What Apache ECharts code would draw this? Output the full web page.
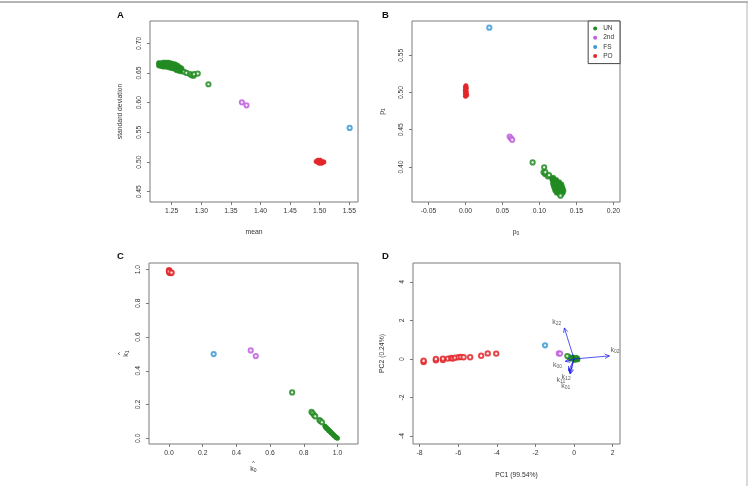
<!DOCTYPE html>
<html><head><meta charset="utf-8">
<script src="https://cdn.jsdelivr.net/npm/echarts@6/dist/echarts.min.js"></script>
<style>html,body{margin:0;padding:0;background:#fff}#c{width:748px;height:486px}</style>
</head><body><div id="c"></div>
<script>
// ---------- Panel A: mean vs standard deviation ----------
const aUNcore = [[1.228,0.662],[1.228,0.665],[1.228,0.667],[1.232,0.661],[1.232,0.664],[1.232,0.667],
 [1.236,0.660],[1.236,0.663],[1.236,0.666],[1.236,0.668],[1.240,0.660],[1.240,0.663],[1.240,0.666],[1.240,0.668],
 [1.244,0.659],[1.244,0.662],[1.244,0.665],[1.244,0.668],[1.248,0.658],[1.248,0.661],[1.248,0.664],[1.248,0.667],
 [1.252,0.657],[1.252,0.660],[1.252,0.663],[1.252,0.666],[1.256,0.656],[1.256,0.659],[1.256,0.662],[1.256,0.665],
 [1.260,0.655],[1.260,0.658],[1.260,0.661],[1.260,0.663],[1.264,0.654],[1.264,0.657],[1.264,0.660],[1.267,0.655],[1.267,0.658],
 [1.262,0.653],[1.266,0.652],[1.258,0.654]];
const aUN = [[1.271,0.652],[1.275,0.650],[1.281,0.648],[1.284,0.646],[1.287,0.6455],[1.288,0.648],[1.294,0.649],[1.312,0.631]];
const a2nd = [[1.3685,0.6006],[1.3764,0.5955]];
const aFS = [[1.5506,0.5574]];
const aPO = [[1.494,0.501],[1.496,0.500],[1.498,0.502],[1.500,0.500],[1.502,0.501],[1.504,0.499],[1.506,0.500],
 [1.507,0.500],[1.497,0.503],[1.501,0.503],[1.499,0.498],[1.503,0.498]];
const aXTicks = [1.25,1.30,1.35,1.40,1.45,1.50,1.55];
const aYTicks = [0.45,0.50,0.55,0.60,0.65,0.70];

// ---------- Panel B: p0 vs p1 ----------
const bUNcore = [[0.116,0.386],[0.119,0.386],[0.117,0.383],[0.120,0.383],[0.123,0.383],
 [0.118,0.380],[0.121,0.380],[0.124,0.380],[0.127,0.380],[0.118,0.377],[0.121,0.377],[0.124,0.377],[0.127,0.377],[0.130,0.377],
 [0.119,0.374],[0.122,0.374],[0.125,0.374],[0.128,0.374],[0.131,0.374],[0.120,0.371],[0.123,0.371],[0.126,0.371],[0.129,0.371],[0.132,0.371],
 [0.121,0.368],[0.124,0.368],[0.127,0.368],[0.130,0.368],[0.133,0.368],[0.123,0.365],[0.126,0.365],[0.129,0.365],[0.132,0.365],
 [0.127,0.363],[0.130,0.363]];
const bUN = [[0.0908,0.4061],[0.1064,0.3995],[0.1055,0.3928],[0.1077,0.3906],[0.1112,0.3875],[0.108,0.393],[0.113,0.389],[0.1285,0.3615]];
const b2nd = [[0.0597,0.4409],[0.0615,0.4385],[0.0632,0.4365]];
const bFS = [[0.0322,0.5870]];
const bPO = [[0.000,0.495],[0.0005,0.497],[0.000,0.499],[0.001,0.501],[0.000,0.503],[0.0005,0.505],[0.000,0.507],
 [0.0005,0.509],[0.001,0.498],[0.000,0.502],[0.001,0.506],[0.0015,0.4965]];
const bXTicks = [-0.05,0.00,0.05,0.10,0.15,0.20];
const bYTicks = [0.40,0.45,0.50,0.55];

// ---------- Panel C: k0 vs k1 ----------
const cUNcore = [[0.925,0.072],[0.930,0.066],[0.935,0.061],[0.940,0.057],[0.945,0.052],[0.950,0.046],[0.955,0.042],
 [0.960,0.037],[0.965,0.031],[0.970,0.027],[0.975,0.022],[0.980,0.017],[0.985,0.012],[0.990,0.008],[0.995,0.004],[1.000,0.000],
 [0.933,0.060],[0.948,0.045],[0.962,0.032],[0.978,0.017],[0.992,0.004]];
const cUN = [[0.731,0.272],[0.846,0.156],[0.853,0.148],[0.862,0.136],[0.868,0.130],[0.893,0.108],[0.898,0.103],[0.908,0.095]];
const c2nd = [[0.485,0.521],[0.515,0.487]];
const cFS = [[0.265,0.499]];
const cPO = [[0.000,0.996],[0.002,0.990],[0.005,0.985],[0.008,0.982],[0.012,0.980],[0.003,0.981],[0.000,0.988],[0.015,0.982]];
const cXTicks = [0.0,0.2,0.4,0.6,0.8,1.0];
const cYTicks = [0.0,0.2,0.4,0.6,0.8,1.0];

// ---------- Panel D: PCA biplot ----------
const dUNcore = [[-0.25,0.12],[-0.15,0.08],[-0.10,0.02],[0.00,0.05],[0.05,0.00],[0.10,0.03],[0.15,-0.02],[0.18,0.05],
 [0.08,-0.06],[0.00,-0.05],[-0.05,0.10],[0.12,0.08],[0.20,-0.04],[-0.18,0.00]];
const dUN = [[-0.35,0.15]];
const d2nd = [[-0.79,0.29],[-0.72,0.28]];
const dFS = [[-1.50,0.71]];
const dPO = [[-7.79,-0.155],[-7.79,-0.09],[-7.155,-0.07],[-7.155,0.00],[-6.79,-0.05],[-6.79,0.02],[-6.53,0.02],
 [-6.36,0.05],[-6.28,0.02],[-6.16,0.07],[-5.98,0.09],[-5.86,0.10],[-5.72,0.09],[-5.38,0.09],[-4.81,0.17],[-4.47,0.29],[-4.03,0.28]];
const arrowNames = ['22','02','00','12','11','01'];
const arrowPC1 = [-0.50, 1.83, -0.45, -0.22, -0.28, -0.20];
const arrowPC2 = [1.61, 0.16, -0.12, -0.72, -0.62, -0.78];
const labelPC1 = [-0.89, 2.12, -0.86, -0.41, -0.68, -0.43];
const labelPC2 = [1.90, 0.46, -0.32, -0.96, -1.10, -1.39];
const dXTicks = [-8,-6,-4,-2,0,2];
const dYTicks = [-4,-2,0,2,4];

const groups = ['UN','2nd','FS','PO'];
const colors = {UN:'#228B22','2nd':'#c060dc',FS:'#3d9ad8',PO:'#e3262a'};

const FONT = 'Liberation Sans, Arial, sans-serif';
const TXT = '#333';
const BOX = '#7a7a7a';

function axis(gi, min, max, ticks, dec, name, gap, isY){
  return {
    type:'value', gridIndex:gi, min:min, max:max, scale:true,
    position: isY ? 'left' : 'bottom',
    splitLine:{show:false}, axisLine:{show:false, onZero:false},
    axisTick:{show:true, length:3, inside:false, customValues:ticks, lineStyle:{color:BOX,width:1}},
    axisLabel:{show:true, customValues:ticks, margin:isY?7:6, rotate:isY?90:0,
      fontSize:6.8, color:TXT, fontFamily:FONT,
      formatter:(v)=>Number(v).toFixed(dec)},
    name:name, nameLocation:'middle', nameGap:gap,
    nameTextStyle:{fontSize:6.8, color:TXT, fontFamily:FONT, align:'center',
      rich:{b:{fontSize:6.8,color:TXT,fontFamily:FONT},
            h:{fontSize:6,color:TXT,fontFamily:FONT,lineHeight:4,align:'center'},
            k:{fontSize:7,color:TXT,fontFamily:FONT},
            s:{fontSize:5,color:TXT,fontFamily:FONT,verticalAlign:'bottom',padding:[3,0,0,0]}}}
  };
}

function pts(gi, name, data, filled, size){
  return {type:'scatter', name:name, xAxisIndex:gi, yAxisIndex:gi, data:data,
    symbol: filled ? 'circle' : 'emptyCircle', symbolSize:size||4.2,
    itemStyle: filled ? {color:colors[name], borderColor:colors[name], borderWidth:0.6, opacity:1}
                      : {color:colors[name], borderColor:colors[name], borderWidth:0.75, opacity:0.85},
    emphasis:{disabled:true}, silent:true, animation:false};
}

const series = [];
const panels = [
  [aUNcore,aUN,a2nd,aFS,aPO],
  [bUNcore,bUN,b2nd,bFS,bPO],
  [cUNcore,cUN,c2nd,cFS,cPO],
  [dUNcore,dUN,d2nd,dFS,dPO]
];
panels.forEach((p,gi)=>{
  series.push(pts(gi,'UN',p[0],true, 4.5));
  series.push(pts(gi,'UN',p[1],false));
  series.push(pts(gi,'2nd',p[2],false));
  series.push(pts(gi,'FS',p[3],false));
  series.push(pts(gi,'PO',p[4], gi<2, gi<2 ? 4.5 : 4.4));
});

// biplot arrows
series.push({
  type:'custom', xAxisIndex:3, yAxisIndex:3, silent:true, animation:false, z:5,
  data: arrowPC1.map((x,i)=>[x, arrowPC2[i]]),
  renderItem:(params, api)=>{
    const o = api.coord([0,0]);
    const e = api.coord([api.value(0), api.value(1)]);
    const ang = Math.atan2(e[1]-o[1], e[0]-o[0]);
    const h = 5, w = 0.45;
    const l = [e[0]-h*Math.cos(ang-w), e[1]-h*Math.sin(ang-w)];
    const r = [e[0]-h*Math.cos(ang+w), e[1]-h*Math.sin(ang+w)];
    const st = {stroke:'rgba(20,20,235,0.72)', lineWidth:1, fill:null};
    return {type:'group', children:[
      {type:'line', shape:{x1:o[0],y1:o[1],x2:e[0],y2:e[1]}, style:st},
      {type:'polyline', shape:{points:[l,e,r]}, style:st}
    ]};
  }
});
// arrow labels
series.push({
  type:'scatter', xAxisIndex:3, yAxisIndex:3, silent:true, animation:false, z:6,
  symbol:'circle', symbolSize:0.1, itemStyle:{color:'rgba(0,0,0,0)'},
  data: labelPC1.map((x,i)=>({value:[x,labelPC2[i]], nm:arrowNames[i]})),
  label:{show:true, position:'inside', formatter:(p)=>'{b|k}{s|'+p.data.nm+'}',
    rich:{b:{fontSize:7,color:'#333',fontFamily:FONT}, s:{fontSize:5,color:'#333',fontFamily:FONT,padding:[3,0,0,0]}}}
});

const option = {
  animation:false,
  backgroundColor:'#fff',
  textStyle:{fontFamily:FONT},
  grid:[
    {left:150, top:21, width:208, height:181, show:true, borderColor:BOX, borderWidth:1, backgroundColor:'transparent'},
    {left:412, top:21, width:208, height:181, show:true, borderColor:BOX, borderWidth:1, backgroundColor:'transparent'},
    {left:149, top:263, width:209, height:181, show:true, borderColor:BOX, borderWidth:1, backgroundColor:'transparent'},
    {left:413, top:263, width:207, height:181, show:true, borderColor:BOX, borderWidth:1, backgroundColor:'transparent'}
  ],
  xAxis:[
    axis(0, 1.2133, 1.5647, aXTicks, 2, 'mean', 27, false),
    axis(1, -0.0724, 0.209, bXTicks, 2, '{b|p}{s|0}', 26, false),
    axis(2, -0.119, 1.122, cXTicks, 1, '{h|^}\n{k|k}{s|0}', 17, false),
    axis(3, -8.34, 2.38, dXTicks, 0, 'PC1 (99.54%)', 28, false)
  ],
  yAxis:[
    axis(0, 0.4327, 0.7375, aYTicks, 2, 'standard deviation', 26, true),
    axis(1, 0.353, 0.596, bYTicks, 2, '{b|p}{s|1}', 26, true),
    axis(2, -0.034, 1.039, cYTicks, 1, '{h|^}\n{k|k}{s|1}', 19, true),
    axis(3, -4.41, 4.98, dYTicks, 0, 'PC2 (0.24%)', 27, true)
  ],
  legend:{
    orient:'vertical', right:128, top:21, padding:[4,6,4,5], itemGap:2.2,
    itemWidth:4, itemHeight:4, backgroundColor:'#fff', borderColor:'#444', borderWidth:1, borderRadius:0,
    textStyle:{fontSize:6.5, color:'#333', fontFamily:FONT, padding:[0,0,0,1]},
    selectedMode:false,
    data: groups.map(g=>({name:g, icon:'circle', itemStyle:{color:colors[g], borderWidth:0, opacity:1}}))
  },
  graphic:[
    {type:'line', shape:{x1:0,y1:2,x2:748,y2:2}, style:{stroke:'#b5b5b5', lineWidth:2}, silent:true},
    {type:'line', shape:{x1:747,y1:2,x2:747,y2:486}, style:{stroke:'#b5b5b5', lineWidth:1}, silent:true},
    {type:'text', left:117, top:10, style:{text:'A', fontSize:9.5, fontWeight:'bold', fill:'#111', fontFamily:FONT}},
    {type:'text', left:382, top:10, style:{text:'B', fontSize:9.5, fontWeight:'bold', fill:'#111', fontFamily:FONT}},
    {type:'text', left:117, top:251, style:{text:'C', fontSize:9.5, fontWeight:'bold', fill:'#111', fontFamily:FONT}},
    {type:'text', left:382, top:251, style:{text:'D', fontSize:9.5, fontWeight:'bold', fill:'#111', fontFamily:FONT}}
  ],
  series:series
};
const chart = echarts.init(document.getElementById('c'), null, {renderer:'canvas'});
chart.setOption(option);
</script></body></html>
